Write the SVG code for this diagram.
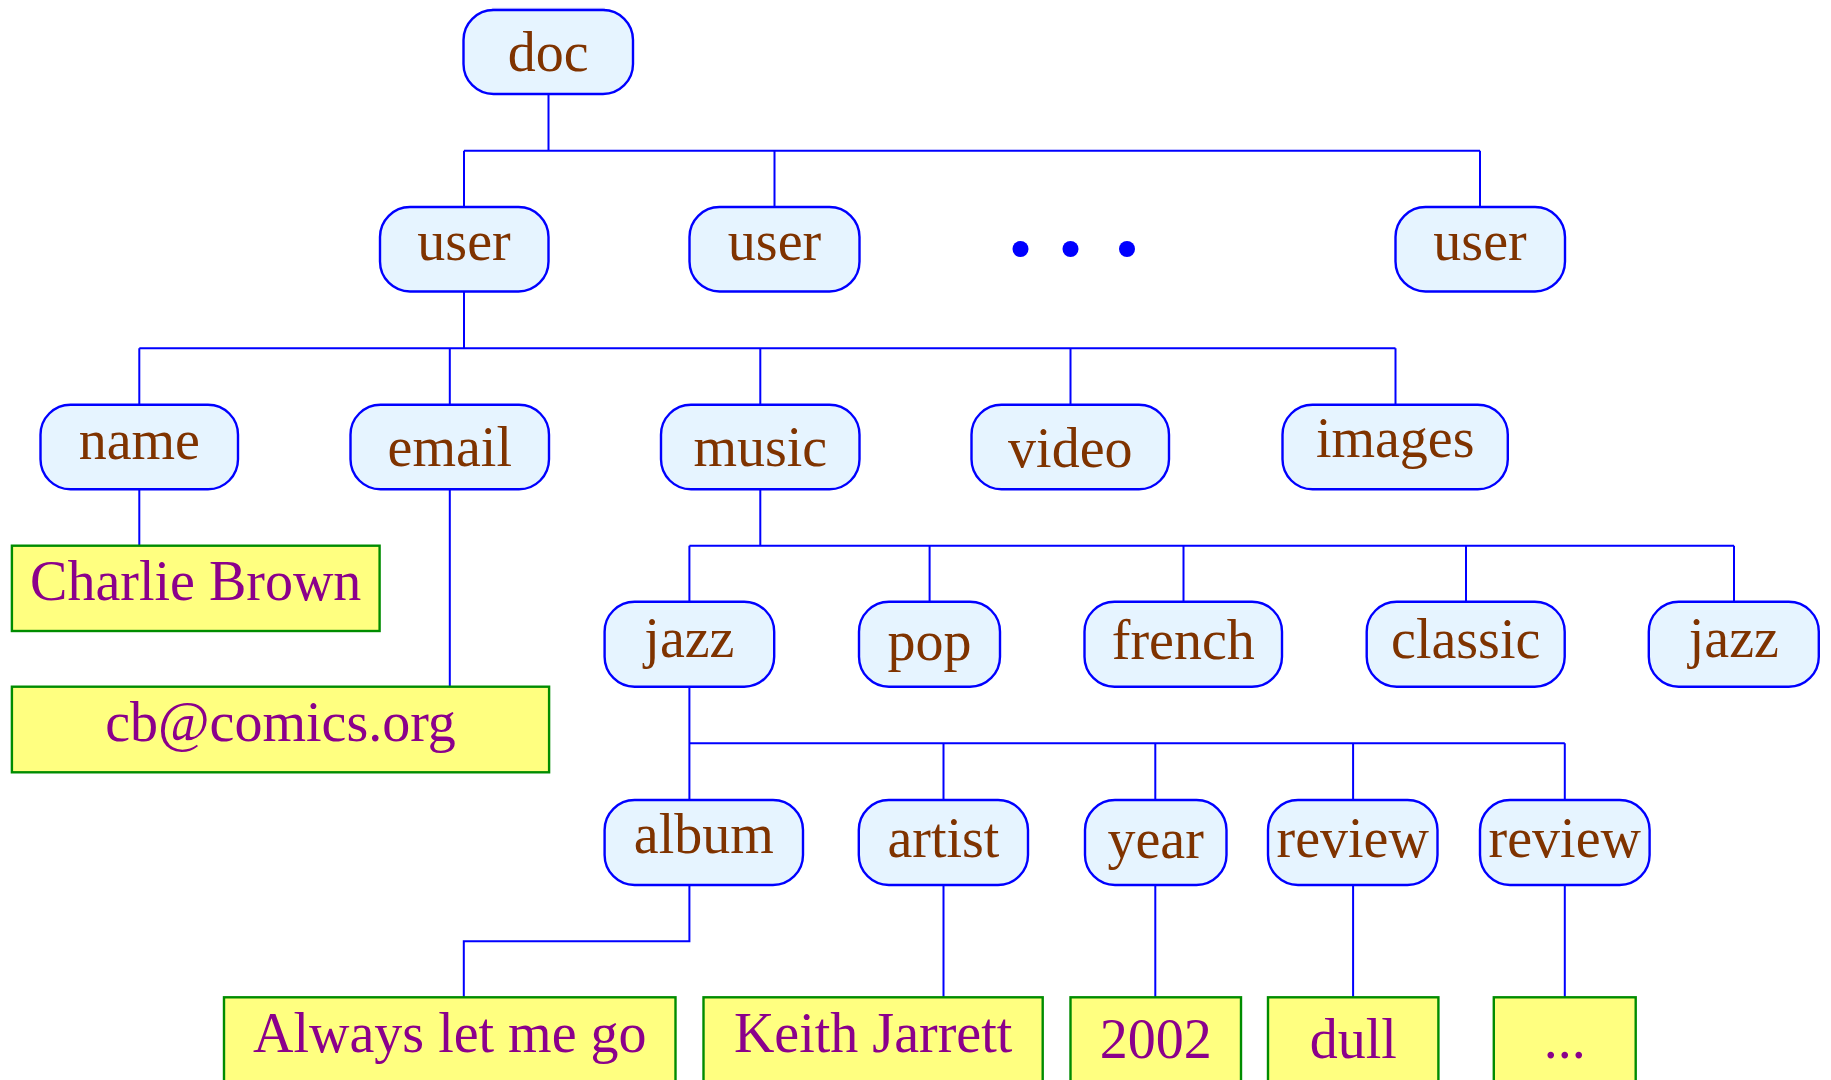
<svg xmlns="http://www.w3.org/2000/svg" width="1831" height="1080" viewBox="0 0 1831 1080">
  <style>
    .node rect { fill: #E6F4FF; stroke: #0000FF; stroke-width: 2.4; }
    .leaf rect { fill: #FFFF80; stroke: #008C00; stroke-width: 2.4; }
    text { font-family: "Liberation Serif", "Times New Roman", serif; font-size: 56px; text-anchor: middle; }
    .node text { fill: #7F3300; }
    .leaf text { fill: #8B008B; }
    .edges path { fill: none; stroke: #0000FF; stroke-width: 2; }
  </style>
  <rect width="1831" height="1080" fill="#FFFFFF"/>

  <!-- faint rule above the root -->
  <line x1="492" y1="8.5" x2="605" y2="8.5" stroke="#D2D2FF" stroke-width="1.5"/>

  <!-- connectors -->
  <g class="edges">
    <!-- doc -> users -->
    <path d="M548.5 94 V150.7 M464 150.7 H1480 M464 150.7 V207 M774.5 150.7 V207 M1480 150.7 V207"/>
    <!-- user -> name/email/music/video/images -->
    <path d="M464 291.5 V348.3 M139.3 348.3 H1395.5 M139.3 348.3 V404.7 M449.8 348.3 V404.7 M760.3 348.3 V404.7 M1070.5 348.3 V404.7 M1395.5 348.3 V404.7"/>
    <!-- name -> value, email -> value -->
    <path d="M139.3 489.3 V545.7 M449.8 489.3 V686.7"/>
    <!-- music -> genres -->
    <path d="M760.3 489.3 V545.7 M689.4 545.7 H1734 M689.4 545.7 V601.7 M929.6 545.7 V601.7 M1183.5 545.7 V601.7 M1466 545.7 V601.7 M1734 545.7 V601.7"/>
    <!-- jazz -> album/artist/year/review/review -->
    <path d="M689.4 686.7 V743.3 M689.4 743.3 H1564.8 M689.4 743.3 V800 M943.5 743.3 V800 M1155.3 743.3 V800 M1353.1 743.3 V800 M1564.8 743.3 V800"/>
    <!-- album/artist/year/review -> values -->
    <path d="M689.4 885 V941.3 H463.8 V997.3"/>
    <path d="M943.5 885 V997.3 M1155.3 885 V997.3 M1353.1 885 V997.3 M1564.8 885 V997.3"/>
  </g>

  <!-- ellipsis between users -->
  <g id="more-users" fill="#0000FF">
    <circle cx="1020.5" cy="249" r="8"/>
    <circle cx="1070.5" cy="249" r="8"/>
    <circle cx="1127" cy="249" r="8"/>
  </g>

  <!-- element nodes -->
  <g id="doc" class="node"><rect x="463.5" y="10" width="169.5" height="84" rx="30"/><text x="548.3" y="70.7">doc</text></g>
  <g id="user1" class="node"><rect x="380" y="207" width="168.5" height="84.5" rx="30"/><text x="464" y="260">user</text></g>
  <g id="user2" class="node"><rect x="689.5" y="207" width="170" height="84.5" rx="30"/><text x="774.5" y="260">user</text></g>
  <g id="user3" class="node"><rect x="1395.5" y="207" width="169.5" height="84.5" rx="30"/><text x="1480" y="260">user</text></g>

  <g id="name" class="node"><rect x="40.5" y="404.7" width="197.5" height="84.6" rx="30"/><text x="139.3" y="459">name</text></g>
  <g id="email" class="node"><rect x="350.5" y="404.7" width="198.5" height="84.6" rx="30"/><text x="449.8" y="465.7">email</text></g>
  <g id="music" class="node"><rect x="661" y="404.7" width="198.5" height="84.6" rx="30"/><text x="760.3" y="466">music</text></g>
  <g id="video" class="node"><rect x="971.5" y="404.7" width="197.5" height="84.6" rx="30"/><text x="1070.3" y="466.5">video</text></g>
  <g id="images" class="node"><rect x="1282.5" y="404.7" width="225.3" height="84.6" rx="30"/><text x="1395.2" y="456.7">images</text></g>

  <g id="jazz1" class="node"><rect x="604.6" y="601.7" width="169.6" height="85" rx="30"/><text x="689.4" y="656.7">jazz</text></g>
  <g id="pop" class="node"><rect x="859" y="601.7" width="141" height="85" rx="30"/><text x="929.5" y="660">pop</text></g>
  <g id="french" class="node"><rect x="1084.5" y="601.7" width="197.5" height="85" rx="30"/><text x="1183.3" y="659">french</text></g>
  <g id="classic" class="node"><rect x="1366.7" y="601.7" width="198" height="85" rx="30"/><text x="1465.7" y="658.3">classic</text></g>
  <g id="jazz2" class="node"><rect x="1648.8" y="601.7" width="170" height="85" rx="30"/><text x="1733.8" y="656.7">jazz</text></g>

  <g id="album" class="node"><rect x="604.6" y="800" width="198.4" height="85" rx="30"/><text x="703.8" y="853.3">album</text></g>
  <g id="artist" class="node"><rect x="858.8" y="800" width="169.2" height="85" rx="30"/><text x="943.4" y="857.3">artist</text></g>
  <g id="year" class="node"><rect x="1085" y="800" width="141.5" height="85" rx="30"/><text x="1155.7" y="857.7">year</text></g>
  <g id="review1" class="node"><rect x="1268" y="800" width="169.5" height="85" rx="30"/><text x="1352.7" y="856.7">review</text></g>
  <g id="review2" class="node"><rect x="1480" y="800" width="169.6" height="85" rx="30"/><text x="1564.8" y="856.7">review</text></g>

  <!-- text values -->
  <g id="val-name" class="leaf"><rect x="11.9" y="545.7" width="367.7" height="85.3"/><text x="195.7" y="600">Charlie Brown</text></g>
  <g id="val-email" class="leaf"><rect x="11.9" y="686.7" width="537.2" height="85.6"/><text x="280.5" y="740.7">cb@comics.org</text></g>
  <g id="val-album" class="leaf"><rect x="224" y="997.3" width="451.5" height="85.3"/><text x="449.8" y="1051.7">Always let me go</text></g>
  <g id="val-artist" class="leaf"><rect x="703.5" y="997.3" width="339.2" height="85.3"/><text x="873.1" y="1051.7">Keith Jarrett</text></g>
  <g id="val-year" class="leaf"><rect x="1070.5" y="997.3" width="170.5" height="85.3"/><text x="1155.8" y="1058.3">2002</text></g>
  <g id="val-review1" class="leaf"><rect x="1268" y="997.3" width="170.4" height="85.3"/><text x="1353.2" y="1058.3">dull</text></g>
  <g id="val-review2" class="leaf"><rect x="1493.8" y="997.3" width="141.9" height="85.3"/><text x="1564.8" y="1058.3">...</text></g>
</svg>
